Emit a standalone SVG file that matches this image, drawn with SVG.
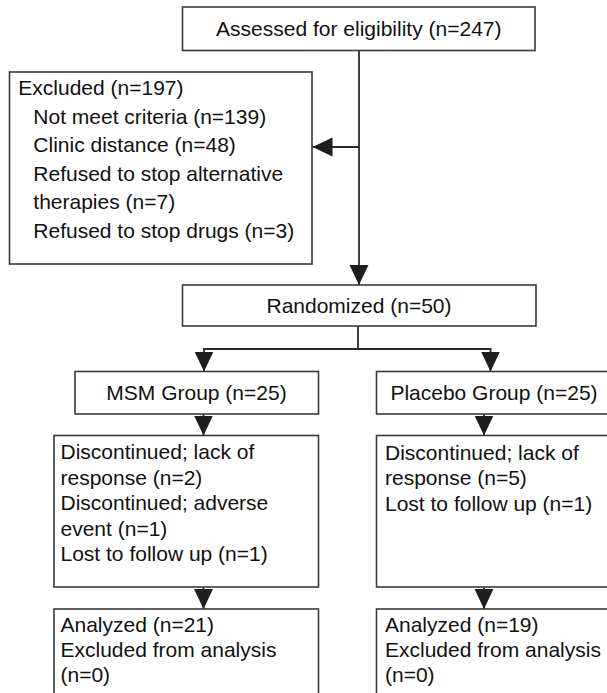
<svg xmlns="http://www.w3.org/2000/svg" width="607" height="693" viewBox="0 0 607 693">
<style>
.box{fill:#fff;stroke:#3a3a3a;stroke-width:1.6}
.t{font-family:"Liberation Sans",Arial,sans-serif;font-size:21px;fill:#111}
.c{text-anchor:middle}
.ln{fill:none;stroke:#2a2a2a;stroke-width:1.8}
</style>
<defs>
<marker id="ah" markerUnits="userSpaceOnUse" markerWidth="20" markerHeight="20" viewBox="0 0 20 20" refX="20" refY="10" orient="auto">
<path d="M0,0.5 L20,10 L0,19.5 z" fill="#1e1e1e"/>
</marker>
</defs>
<rect width="607" height="693" fill="#fff"/>
<g id="connectors">
<line class="ln" x1="359" y1="50" x2="359" y2="285" marker-end="url(#ah)"/>
<line class="ln" x1="359" y1="147" x2="312.5" y2="147" marker-end="url(#ah)"/>
<line class="ln" x1="358" y1="326" x2="358" y2="349"/>
<line class="ln" x1="203.1" y1="349" x2="491.4" y2="349"/>
<line class="ln" x1="204" y1="349" x2="204" y2="371.5" marker-end="url(#ah)"/>
<line class="ln" x1="490.5" y1="349" x2="490.5" y2="371.5" marker-end="url(#ah)"/>
<line class="ln" x1="203.5" y1="414" x2="203.5" y2="435.5" marker-end="url(#ah)"/>
<line class="ln" x1="203.5" y1="587" x2="203.5" y2="609" marker-end="url(#ah)"/>
<line class="ln" x1="484" y1="414" x2="484" y2="435.5" marker-end="url(#ah)"/>
<line class="ln" x1="484" y1="587" x2="484" y2="609" marker-end="url(#ah)"/>
</g>
<g id="assessed">
<rect class="box" x="182.5" y="7" width="352.5" height="43.5"/>
<text class="t c" x="358.8" y="36">Assessed for eligibility (n=247)</text>
</g>
<g id="excluded">
<rect class="box" x="9.5" y="72" width="302.5" height="192"/>
<text class="t" x="18.3" y="95">Excluded (n=197)</text>
<text class="t" x="33.3" y="123.5">Not meet criteria (n=139)</text>
<text class="t" x="33.3" y="152">Clinic distance (n=48)</text>
<text class="t" x="33.3" y="180.5">Refused to stop alternative</text>
<text class="t" x="33.3" y="209">therapies (n=7)</text>
<text class="t" x="33.3" y="237.5">Refused to stop drugs (n=3)</text>
</g>
<g id="randomized">
<rect class="box" x="182.5" y="285" width="353.5" height="41"/>
<text class="t c" x="359" y="313">Randomized (n=50)</text>
</g>
<g id="msm">
<rect class="box" x="75" y="371.5" width="243.5" height="42.5"/>
<text class="t c" x="196.5" y="400">MSM Group (n=25)</text>
</g>
<g id="placebo">
<rect class="box" x="376.5" y="371.5" width="240" height="42.5"/>
<text class="t c" x="494" y="400">Placebo Group (n=25)</text>
</g>
<g id="msm-discontinued">
<rect class="box" x="54" y="435.5" width="264.5" height="151.5"/>
<text class="t" x="60.5" y="459">Discontinued; lack of</text>
<text class="t" x="60.5" y="484.5">response (n=2)</text>
<text class="t" x="60.5" y="510">Discontinued; adverse</text>
<text class="t" x="60.5" y="535.5">event (n=1)</text>
<text class="t" x="60.5" y="561">Lost to follow up (n=1)</text>
</g>
<g id="placebo-discontinued">
<rect class="box" x="376.5" y="435.5" width="240" height="151.5"/>
<text class="t" x="385" y="459.5">Discontinued; lack of</text>
<text class="t" x="385" y="485">response (n=5)</text>
<text class="t" x="385" y="510.5">Lost to follow up (n=1)</text>
</g>
<g id="msm-analyzed">
<rect class="box" x="54" y="609" width="264.5" height="100"/>
<text class="t" x="60.5" y="631.7">Analyzed (n=21)</text>
<text class="t" x="60.5" y="656.7">Excluded from analysis</text>
<text class="t" x="60.5" y="682">(n=0)</text>
</g>
<g id="placebo-analyzed">
<rect class="box" x="376.5" y="609" width="240" height="100"/>
<text class="t" x="385" y="631.7">Analyzed (n=19)</text>
<text class="t" x="385" y="656.7">Excluded from analysis</text>
<text class="t" x="385" y="682">(n=0)</text>
</g>
</svg>
